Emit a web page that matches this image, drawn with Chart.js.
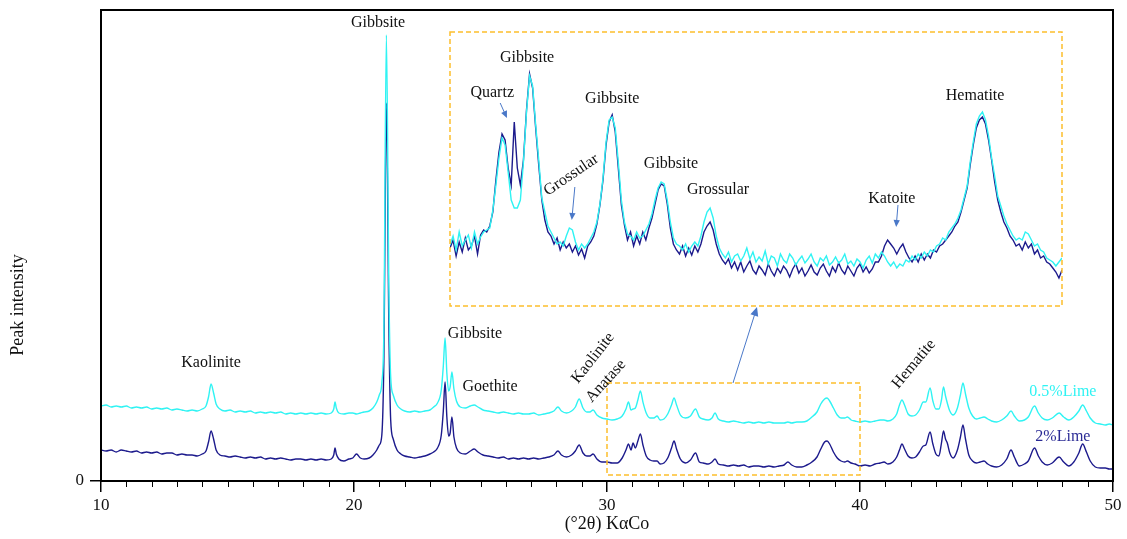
<!DOCTYPE html>
<html>
<head>
<meta charset="utf-8">
<script src="https://cdn.jsdelivr.net/npm/chart.js@4.4.1/dist/chart.umd.min.js"></script>
<style>
  body { margin: 0; background: #fff; }
  #wrap { position: relative; width: 1127px; height: 539px; }
  #xrd { position: absolute; left: 0; top: 0; }
  #zoom { position: absolute; left: 445px; top: 27px; }
</style>
</head>
<body>
<div id="wrap">
  <canvas id="xrd" width="1127" height="539"></canvas>
  <canvas id="zoom" width="622" height="284"></canvas>
</div>
<script>
// full pattern, 10-50 deg 2theta (intensity in arbitrary units, offsets as in the figure)
var twoTheta = [10.0, 10.2, 10.4, 10.6, 10.8, 11.0, 11.2, 11.4, 11.6, 11.8, 12.0, 12.2, 12.4, 12.6, 12.8,
    13.0, 13.2, 13.4, 13.6, 13.8, 14.0, 14.15, 14.25, 14.35, 14.45, 14.55, 14.7, 14.9, 15.1, 15.3,
    15.5, 15.7, 15.9, 16.1, 16.3, 16.5, 16.7, 16.9, 17.1, 17.3, 17.5, 17.7, 17.9, 18.1, 18.3,
    18.5, 18.7, 18.9, 19.1, 19.2, 19.25, 19.3, 19.4, 19.6, 19.8, 19.95, 20.1, 20.25, 20.4, 20.6,
    20.75, 20.9, 21.0, 21.1, 21.18, 21.28, 21.38, 21.45, 21.55, 21.7, 21.85, 22.0, 22.2, 22.4, 22.6,
    22.8, 23.0, 23.15, 23.3, 23.45, 23.53, 23.6, 23.67, 23.74, 23.8, 23.87, 23.95, 24.05, 24.2, 24.4,
    24.6, 24.75, 24.9, 25.1, 25.3, 25.5, 25.7, 25.9, 26.1, 26.3, 26.5, 26.7, 26.9, 27.1, 27.3,
    27.5, 27.7, 27.9, 28.06, 28.2, 28.4, 28.6, 28.75, 28.9, 29.05, 29.2, 29.32, 29.45, 29.6, 29.8,
    30.0, 30.2, 30.4, 30.6, 30.75, 30.85, 30.95, 31.03, 31.12, 31.22, 31.32, 31.42, 31.55, 31.7, 31.85,
    31.98, 32.1, 32.25, 32.4, 32.55, 32.65, 32.75, 32.9, 33.1, 33.3, 33.5, 33.65, 33.8, 34.0, 34.15,
    34.27, 34.4, 34.6, 34.8, 35.0, 35.2, 35.4, 35.6, 35.8, 36.0, 36.2, 36.4, 36.6, 36.8, 37.0,
    37.15, 37.3, 37.5, 37.7, 37.9, 38.1, 38.3, 38.45, 38.6, 38.7, 38.8, 38.95, 39.1, 39.25, 39.4,
    39.5, 39.65, 39.8, 40.0, 40.2, 40.4, 40.6, 40.8, 40.95, 41.1, 41.3, 41.45, 41.56, 41.66, 41.76,
    41.9, 42.05, 42.2, 42.35, 42.5, 42.6, 42.77, 42.88, 43.0, 43.12, 43.22, 43.3, 43.38, 43.45, 43.55,
    43.68, 43.85, 43.97, 44.07, 44.17, 44.3, 44.45, 44.6, 44.75, 44.9, 45.05, 45.2, 45.4, 45.6, 45.8,
    45.97, 46.1, 46.3, 46.5, 46.65, 46.9, 47.05, 47.2, 47.4, 47.6, 47.87, 48.05, 48.25, 48.45, 48.65,
    48.8, 48.95, 49.1, 49.3, 49.5, 49.7, 49.85, 50.0]

var lime05 = [75, 76, 74, 75, 74, 75, 73, 74, 73, 74, 72, 73, 72, 73, 71,
    72, 71, 70, 71, 70, 72, 75, 84, 97, 88, 77, 72, 70, 71, 69,
    70, 69, 70, 68, 69, 68, 69, 68, 69, 67, 68, 67, 68, 67, 68,
    67, 68, 67, 68, 72, 79, 73, 68, 67, 68, 68, 67, 68, 69, 70,
    73, 79, 86, 98, 150, 446, 190, 104, 86, 76, 72, 70, 69, 70, 69,
    70, 71, 74, 78, 91, 115, 143, 108, 90, 94, 109, 92, 80, 74, 73,
    75, 76, 74, 71, 70, 69, 68, 69, 68, 67, 68, 67, 67, 68, 66,
    67, 68, 70, 74, 70, 68, 70, 74, 82, 73, 69, 69, 71, 66, 63,
    62, 61, 62, 65, 72, 79, 71, 72, 73, 81, 90, 79, 68, 63, 63,
    65, 61, 62, 67, 76, 83, 76, 66, 63, 65, 72, 64, 62, 61, 63,
    68, 62, 60, 59, 60, 59, 58, 59, 58, 59, 58, 59, 58, 58, 58,
    59, 58, 59, 59, 60, 64, 69, 77, 82, 83, 80, 73, 66, 63, 63,
    64, 61, 60, 59, 60, 59, 60, 61, 61, 60, 62, 67, 76, 81, 76,
    67, 65, 66, 71, 79, 79, 93, 80, 72, 72, 81, 94, 85, 78, 70,
    66, 73, 86, 98, 87, 73, 65, 62, 63, 64, 62, 60, 59, 61, 65,
    70, 65, 60, 61, 64, 75, 68, 63, 61, 63, 68, 64, 61, 64, 70,
    76, 70, 63, 58, 57, 56, 57, 56]

var lime2 = [31, 30, 31, 29, 31, 30, 29, 30, 28, 29, 28, 29, 27, 28, 28,
    26, 27, 26, 26, 25, 27, 30, 39, 50, 42, 31, 26, 25, 24, 25,
    24, 23, 24, 23, 24, 22, 23, 22, 23, 22, 21, 22, 22, 21, 22,
    21, 22, 21, 22, 26, 33, 27, 22, 20, 22, 23, 27, 23, 22, 23,
    26, 31, 36, 46, 120, 378, 150, 61, 42, 31, 27, 25, 24, 23, 24,
    25, 27, 29, 33, 46, 70, 99, 64, 45, 48, 64, 44, 33, 28, 27,
    30, 32, 29, 26, 25, 24, 23, 24, 22, 23, 22, 23, 22, 23, 22,
    23, 24, 26, 30, 26, 24, 26, 30, 36, 28, 25, 25, 27, 22, 19,
    19, 18, 18, 23, 31, 37, 31, 38, 33, 40, 47, 36, 25, 21, 20,
    20, 17, 18, 23, 33, 40, 32, 22, 18, 21, 28, 19, 18, 17, 19,
    22, 17, 16, 15, 16, 15, 16, 14, 15, 15, 14, 15, 14, 15, 16,
    19, 16, 14, 14, 16, 19, 24, 32, 39, 40, 37, 29, 23, 20, 19,
    20, 18, 17, 15, 16, 15, 17, 18, 19, 17, 19, 24, 31, 37, 32,
    25, 23, 24, 29, 35, 36, 49, 37, 27, 25, 38, 50, 42, 38, 28,
    23, 31, 44, 56, 42, 26, 20, 18, 19, 20, 17, 15, 14, 16, 22,
    31, 24, 15, 17, 20, 33, 25, 19, 16, 18, 24, 19, 15, 19, 28,
    37, 29, 20, 14, 13, 13, 12, 12]

// enlarged 30-40 deg window (inset), both patterns overlaid
var zoomTheta = [30.00, 30.05, 30.10, 30.15, 30.20, 30.25, 30.30, 30.35, 30.40, 30.45, 30.50, 30.55, 30.60, 30.65, 30.70, 30.75, 30.80, 30.85, 30.90, 30.95,
    31.00, 31.05, 31.10, 31.15, 31.20, 31.25, 31.30, 31.35, 31.40, 31.45, 31.50, 31.55, 31.60, 31.65, 31.70, 31.75, 31.80, 31.85, 31.90, 31.95,
    32.00, 32.05, 32.10, 32.15, 32.20, 32.25, 32.30, 32.35, 32.40, 32.45, 32.50, 32.55, 32.60, 32.65, 32.70, 32.75, 32.80, 32.85, 32.90, 32.95,
    33.00, 33.05, 33.10, 33.15, 33.20, 33.25, 33.30, 33.35, 33.40, 33.45, 33.50, 33.55, 33.60, 33.65, 33.70, 33.75, 33.80, 33.85, 33.90, 33.95,
    34.00, 34.05, 34.10, 34.15, 34.20, 34.25, 34.30, 34.35, 34.40, 34.45, 34.50, 34.55, 34.60, 34.65, 34.70, 34.75, 34.80, 34.85, 34.90, 34.95,
    35.00, 35.05, 35.10, 35.15, 35.20, 35.25, 35.30, 35.35, 35.40, 35.45, 35.50, 35.55, 35.60, 35.65, 35.70, 35.75, 35.80, 35.85, 35.90, 35.95,
    36.00, 36.05, 36.10, 36.15, 36.20, 36.25, 36.30, 36.35, 36.40, 36.45, 36.50, 36.55, 36.60, 36.65, 36.70, 36.75, 36.80, 36.85, 36.90, 36.95,
    37.00, 37.05, 37.10, 37.15, 37.20, 37.25, 37.30, 37.35, 37.40, 37.45, 37.50, 37.55, 37.60, 37.65, 37.70, 37.75, 37.80, 37.85, 37.90, 37.95,
    38.00, 38.05, 38.10, 38.15, 38.20, 38.25, 38.30, 38.35, 38.40, 38.45, 38.50, 38.55, 38.60, 38.65, 38.70, 38.75, 38.80, 38.85, 38.90, 38.95,
    39.00, 39.05, 39.10, 39.15, 39.20, 39.25, 39.30, 39.35, 39.40, 39.45, 39.50, 39.55, 39.60, 39.65, 39.70, 39.75, 39.80, 39.85, 39.90, 39.95,
    40.00]

var zoom05 = [61, 70, 56, 74, 60, 66, 71, 58, 74, 62, 69, 74, 76, 78, 96, 121, 148, 168, 161, 134,
    106, 98, 98, 106, 144, 194, 230, 220, 181, 146, 108, 94, 80, 74, 68, 62, 64, 60, 70, 78,
    76, 64, 56, 62, 58, 62, 68, 74, 84, 102, 128, 164, 186, 189, 178, 144, 106, 84, 72, 70,
    66, 74, 68, 70, 76, 82, 92, 106, 118, 124, 122, 106, 84, 68, 62, 60, 56, 62, 54, 60,
    64, 60, 70, 84, 94, 98, 88, 70, 58, 52, 48, 54, 44, 50, 52, 45, 50, 58, 47, 54,
    44, 49, 45, 55, 42, 50, 48, 40, 52, 46, 43, 52, 48, 41, 46, 50, 43, 47, 52, 44,
    40, 48, 45, 50, 41, 44, 49, 43, 46, 52, 42, 45, 40, 47, 44, 38, 46, 50, 43, 52,
    48, 54, 50, 44, 40, 44, 38, 42, 40, 46, 44, 50, 46, 52, 48, 54, 50, 56, 54, 60,
    62, 68, 66, 74, 78, 82, 88, 96, 108, 120, 144, 164, 182, 190, 194, 186, 170, 148, 130, 110,
    100, 90, 82, 76, 70, 66, 68, 66, 74, 72, 66, 60, 62, 56, 54, 48, 46, 44, 40, 44,
    48]

var zoom2 = [58, 66, 50, 64, 54, 68, 56, 60, 70, 52, 71, 76, 74, 80, 94, 126, 154, 172, 166, 138,
    121, 184, 138, 121, 146, 196, 232, 218, 178, 141, 106, 86, 74, 70, 62, 68, 56, 64, 58, 62,
    54, 60, 51, 57, 48, 60, 64, 70, 82, 101, 126, 161, 184, 191, 174, 138, 101, 81, 66, 74,
    60, 70, 62, 74, 66, 78, 88, 102, 116, 122, 120, 102, 78, 62, 56, 52, 60, 50, 58, 51,
    60, 54, 62, 74, 80, 84, 76, 62, 52, 46, 42, 47, 38, 44, 36, 44, 34, 40, 45, 36,
    32, 40, 36, 31, 42, 35, 30, 38, 33, 40, 36, 29, 37, 42, 33, 38, 30, 35, 41, 34,
    31, 38, 42, 35, 30, 39, 34, 43, 36, 32, 40, 35, 30, 38, 42, 34, 39, 33, 37, 44,
    44, 50, 60, 66, 62, 58, 52, 58, 62, 54, 48, 44, 50, 44, 52, 46, 52, 48, 56, 54,
    60, 62, 66, 70, 74, 80, 84, 94, 106, 118, 141, 161, 178, 186, 189, 182, 166, 146, 124, 106,
    94, 84, 78, 70, 66, 60, 62, 56, 64, 58, 62, 52, 56, 48, 50, 44, 42, 38, 34, 28,
    36]

const CYAN = '#2ff3f3'
const NAVY = '#1c1a8c'
const SERIF = "'Liberation Serif', 'Times New Roman', serif"
const ORANGE = '#fdbf2d'
const ARROW = '#4a78c8'

function pairs(xs, ys) {
    return xs.map(function(x, i) { return { x: x, y: ys[i] } })
}

function text(ctx, str, x, y, opt) {
    opt = opt || {}
    ctx.save()
    ctx.translate(x, y)
    if (opt.angle) ctx.rotate(opt.angle * Math.PI / 180)
    ctx.font = (opt.size || 16) + 'px ' + SERIF
    ctx.fillStyle = opt.color || '#111'
    ctx.textAlign = 'center'
    ctx.textBaseline = 'middle'
    ctx.fillText(str, 0, 0)
    ctx.restore()
}

function arrow(ctx, x1, y1, x2, y2, head) {
    var a = Math.atan2(y2 - y1, x2 - x1), h = head || 8
    ctx.save()
    ctx.strokeStyle = ARROW
    ctx.fillStyle = ARROW
    ctx.lineWidth = 1
    ctx.beginPath()
    ctx.moveTo(x1, y1)
    ctx.lineTo(x2 - Math.cos(a) * h * 0.8, y2 - Math.sin(a) * h * 0.8)
    ctx.stroke()
    ctx.beginPath()
    ctx.moveTo(x2, y2)
    ctx.lineTo(x2 - h * Math.cos(a) + h * 0.45 * Math.sin(a), y2 - h * Math.sin(a) - h * 0.45 * Math.cos(a))
    ctx.lineTo(x2 - h * Math.cos(a) - h * 0.45 * Math.sin(a), y2 - h * Math.sin(a) + h * 0.45 * Math.cos(a))
    ctx.closePath()
    ctx.fill()
    ctx.restore()
}

// frame, minor ticks, labels and the marked 30-40 window on the main chart
const mainDecor = {
    id: 'mainDecor',
    afterDraw: function(chart) {
        var ctx = chart.ctx, area = chart.chartArea
        var sx = chart.scales.x, sy = chart.scales.y
        var X = function(v) { return sx.getPixelForValue(v) }
        var Y = function(v) { return sy.getPixelForValue(v) }

        ctx.save()
        ctx.strokeStyle = '#000'
        ctx.lineWidth = 2
        ctx.strokeRect(area.left, area.top, area.right - area.left, area.bottom - area.top)

        ctx.lineWidth = 1
        ctx.beginPath()
        for (var t = 11; t < 50; t++) {
            if (t % 10 === 0) continue
            ctx.moveTo(Math.round(X(t)) + 0.5, area.bottom)
            ctx.lineTo(Math.round(X(t)) + 0.5, area.bottom + 6)
        }
        ctx.stroke()

        ctx.strokeStyle = ORANGE
        ctx.lineWidth = 1.5
        ctx.setLineDash([5, 3])
        ctx.strokeRect(X(30), Y(98), X(40) - X(30), Y(6) - Y(98))
        ctx.restore()

        arrow(ctx, X(34.98), Y(98), X(35.93), Y(174), 9)

        // y axis title sits below the middle of the axis in the original
        text(ctx, 'Peak intensity', 18, 305, { angle: -90, size: 18 })

        text(ctx, 'Kaolinite', X(14.35), Y(118))
        text(ctx, 'Gibbsite', X(20.95), Y(458))
        text(ctx, 'Gibbsite', X(24.78), Y(147))
        text(ctx, 'Goethite', X(25.38), Y(94))
        text(ctx, 'Kaolinite', X(29.45), Y(123), { angle: -52 })
        text(ctx, 'Anatase', X(29.96), Y(100), { angle: -48 })
        text(ctx, 'Hematite', X(42.13), Y(117), { angle: -50 })
        text(ctx, '0.5%Lime', X(48.02), Y(89), { color: CYAN })
        text(ctx, '2%Lime', X(48.02), Y(44), { color: '#2b2b95' })
    }
}

// dashed frame, phase names and pointers of the inset
const zoomDecor = {
    id: 'zoomDecor',
    afterDraw: function(chart) {
        var ctx = chart.ctx, area = chart.chartArea
        var sx = chart.scales.x, sy = chart.scales.y
        var X = function(v) { return sx.getPixelForValue(v) }
        var Y = function(v) { return sy.getPixelForValue(v) }

        ctx.save()
        ctx.strokeStyle = ORANGE
        ctx.lineWidth = 1.5
        ctx.setLineDash([5, 3])
        ctx.strokeRect(area.left, area.top, area.right - area.left, area.bottom - area.top)
        ctx.restore()

        text(ctx, 'Gibbsite', X(31.26), Y(248))
        text(ctx, 'Quartz', X(30.69), Y(213))
        text(ctx, 'Gibbsite', X(32.65), Y(207))
        text(ctx, 'Grossular', X(31.98), Y(131), { angle: -34 })
        text(ctx, 'Gibbsite', X(33.61), Y(142))
        text(ctx, 'Grossular', X(34.38), Y(116))
        text(ctx, 'Katoite', X(37.22), Y(107))
        text(ctx, 'Hematite', X(38.58), Y(210))

        arrow(ctx, X(30.82), Y(203), X(30.93), Y(188), 7)
        arrow(ctx, X(32.04), Y(119), X(31.99), Y(86), 7)
        arrow(ctx, X(37.32), Y(101), X(37.29), Y(79), 7)
    }
}

new Chart(document.getElementById('xrd'), {
    type: 'line',
    data: {
        datasets: [
            {
                label: '0.5%Lime',
                data: pairs(twoTheta, lime05),
                borderColor: CYAN,
                borderWidth: 1.4,
                pointRadius: 0,
                cubicInterpolationMode: 'monotone'
            },
            {
                label: '2%Lime',
                data: pairs(twoTheta, lime2),
                borderColor: NAVY,
                borderWidth: 1.4,
                pointRadius: 0,
                cubicInterpolationMode: 'monotone'
            }
        ]
    },
    options: {
        responsive: false,
        animation: false,
        events: [],
        layout: { padding: { top: 10, right: 14, left: 0, bottom: 0 } },
        plugins: {
            legend: { display: false },
            tooltip: { enabled: false }
        },
        scales: {
            x: {
                type: 'linear',
                min: 10,
                max: 50,
                ticks: {
                    stepSize: 10,
                    color: '#111',
                    padding: 3,
                    font: { family: SERIF, size: 17 }
                },
                grid: { drawOnChartArea: false, tickLength: 11, color: '#000', lineWidth: 1.5 },
                border: { color: '#000', width: 2 },
                title: {
                    display: true,
                    text: '(°2θ) KαCo',
                    color: '#111',
                    padding: { top: 0, bottom: 4 },
                    font: { family: SERIF, size: 18 }
                },
                afterFit: function(scale) { scale.height = 58 }
            },
            y: {
                min: 0,
                max: 471,
                afterBuildTicks: function(scale) { scale.ticks = [{ value: 0 }] },
                ticks: {
                    color: '#111',
                    padding: 6,
                    font: { family: SERIF, size: 17 }
                },
                grid: { drawOnChartArea: false, tickLength: 11, color: '#000', lineWidth: 1.5 },
                border: { color: '#000', width: 2 },
                afterFit: function(scale) {
                    scale.width = 101
                    scale.paddingTop = 0
                    scale.paddingBottom = 0
                }
            }
        }
    },
    plugins: [mainDecor]
})

new Chart(document.getElementById('zoom'), {
    type: 'line',
    data: {
        datasets: [
            {
                label: '0.5%Lime',
                data: pairs(zoomTheta, zoom05),
                borderColor: CYAN,
                borderWidth: 1.4,
                pointRadius: 0,
                tension: 0
            },
            {
                label: '2%Lime',
                data: pairs(zoomTheta, zoom2),
                borderColor: NAVY,
                borderWidth: 1.4,
                pointRadius: 0,
                tension: 0
            }
        ]
    },
    options: {
        responsive: false,
        animation: false,
        events: [],
        layout: { padding: 5 },
        plugins: {
            legend: { display: false },
            tooltip: { enabled: false }
        },
        scales: {
            x: { type: 'linear', min: 30, max: 40, display: false },
            y: { min: 0, max: 274, display: false }
        }
    },
    plugins: [zoomDecor]
})
</script>
</body>
</html>
